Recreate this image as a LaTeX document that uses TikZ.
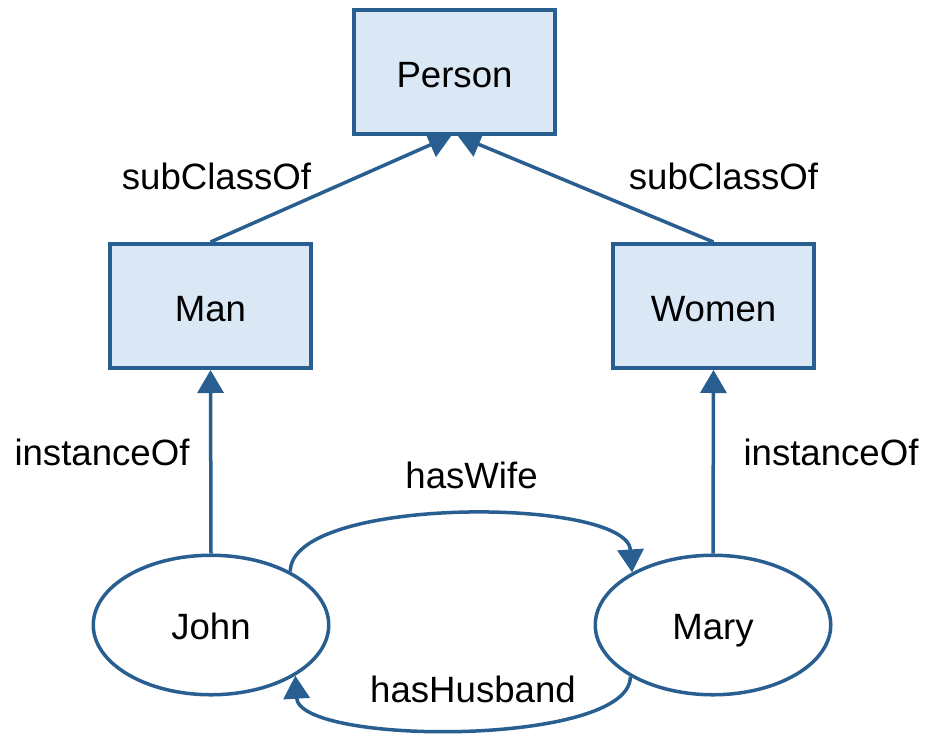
\documentclass[tikz,border=0pt]{standalone}
\usepackage{fontspec}
\setmainfont{Liberation Sans}
\usetikzlibrary{arrows.meta,shapes.geometric,calc}
\definecolor{edgeblue}{RGB}{41,94,145}
\definecolor{classfill}{RGB}{218,232,246}
\pgfdeclarelayer{bg}
\pgfsetlayers{bg,main}
\begin{document}
\begin{tikzpicture}[x=0.5pt,y=-0.5pt,
  font=\fontsize{18.3}{22}\selectfont,
  classbox/.style={draw=edgeblue,fill=classfill,line width=2pt,
    minimum width=100.5pt,minimum height=62pt,inner sep=0pt,
    text height=15.5pt,text depth=0pt},
  indiv/.style={ellipse,draw=edgeblue,fill=white,line width=1.75pt,
    minimum width=117.75pt,minimum height=69.75pt,inner sep=0pt,
    text height=14.5pt,text depth=0pt},
  link/.style={draw=edgeblue,line width=1.75pt,
    -{Triangle[length=11.5pt,width=13pt]}},
  lbl/.style={inner sep=0pt,anchor=center,text height=13.1pt,text depth=0pt}]
\useasboundingbox (0,0) rectangle (926,735);

% classes
\node[classbox] (Person) at (454.5,71.5) {Person};
\node[classbox] (Man)    at (210.5,306)  {Man};
\node[classbox] (Women)  at (713.5,306)  {Women};

% individuals
\node[indiv] (John) at (211,625) {John};
\node[indiv] (Mary) at (713,625) {Mary};

% relation labels
\node[lbl] (l1) at (216.5,176.5) {subClassOf};
\node[lbl] (l2) at (723.5,176.5) {subClassOf};
\node[lbl] (l3) at (102,452.5) {instanceOf};
\node[lbl] (l4) at (831,452.5) {instanceOf};
\node[lbl] (l5) at (471.5,475) {hasWife};
\node[lbl] (l6) at (473,689) {hasHusband};

% connectors, kept behind the shapes
\begin{pgfonlayer}{bg}
  \draw[link] (Man.north)   -- ($(Person.south)+(-3,0)$);
  \draw[link] (Women.north) -- ($(Person.south)+(3,0)$);
  \draw[link] (John.north)  -- (Man.south);
  \draw[link] (Mary.north)  -- (Women.south);
  \draw[link] (John.34)  .. controls ($(John.34)+(0,-76)$) and ($(Mary.147)+(-5,-76)$) .. (Mary.147);
  \draw[link] (Mary.212) .. controls ($(Mary.212)+(0,70)$) and ($(John.-31)+(4,70)$) .. (John.-31);
\end{pgfonlayer}
\end{tikzpicture}
\end{document}
